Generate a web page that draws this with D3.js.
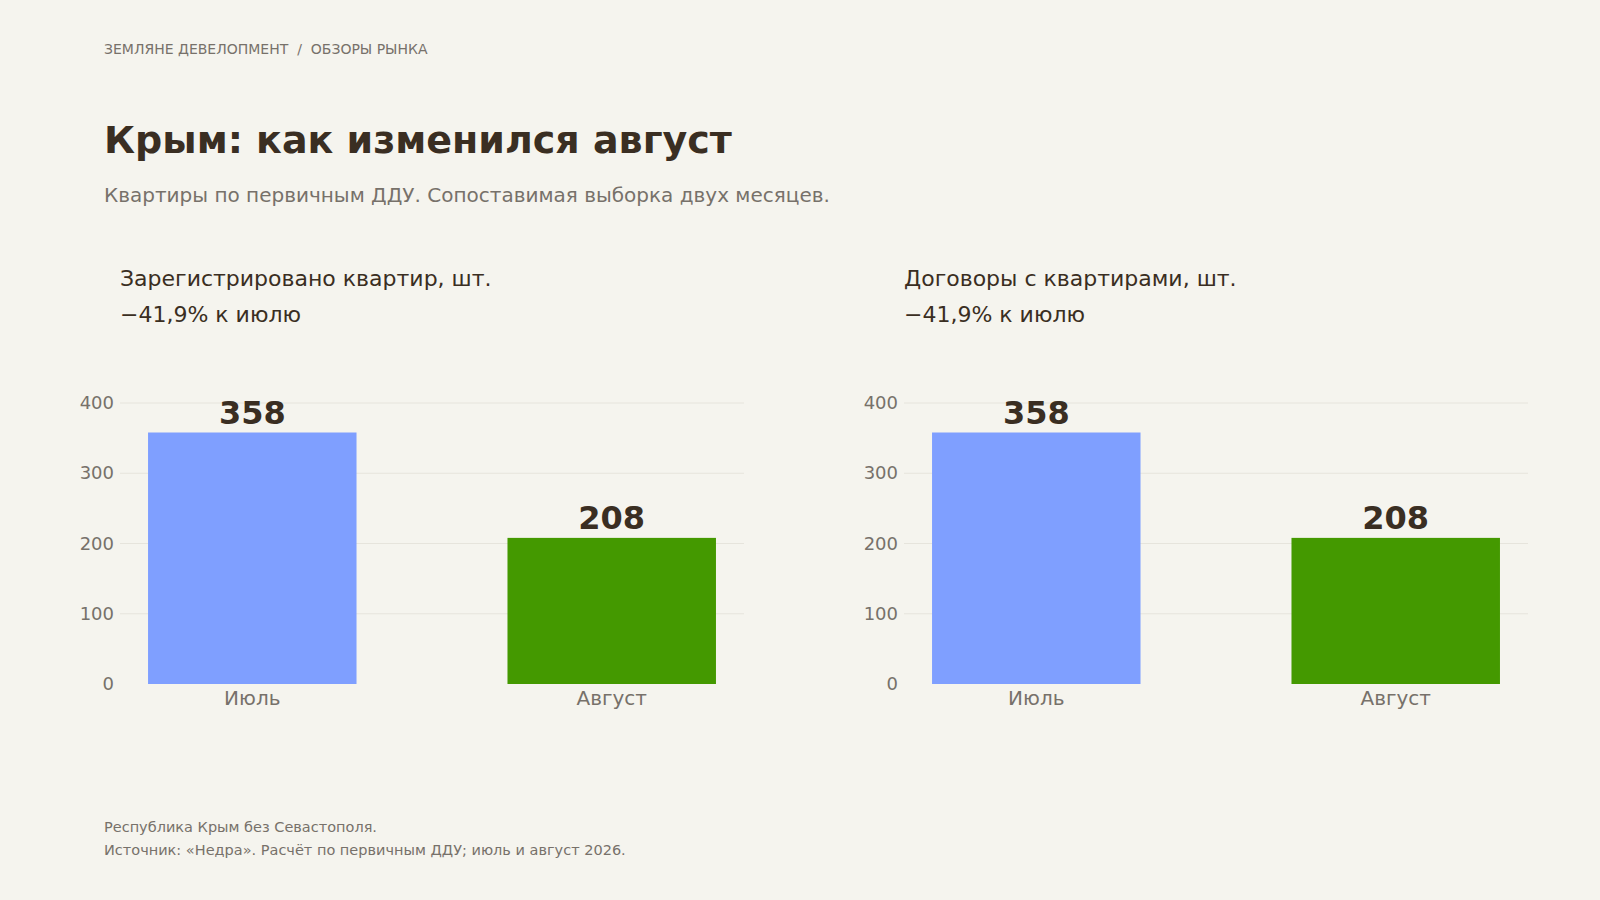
<!DOCTYPE html>
<html><head><meta charset="utf-8">
<script src="https://cdn.jsdelivr.net/npm/d3@7"></script>
<style>body{margin:0;background:#f5f4ee;font-family:"DejaVu Sans",sans-serif}</style>
</head><body><div class="canvas"></div>
<script>
// data
const months = ['Июль', 'Август'];
const registered = [358, 208];
const contracts = [358, 208];
const yTicks = [0, 100, 200, 300, 400];
const barColors = ['#7f9fff', '#449900'];

const svg = d3.select('.canvas').append('svg')
  .attr('width', 1600).attr('height', 900)
  .style('background', '#f5f4ee');

const txt = (x, y, s, size, fill, weight) => svg.append('text')
  .attr('x', x).attr('y', y).text(s)
  .attr('font-size', size).attr('fill', fill).attr('font-weight', weight || 'normal');

txt(104, 54, 'ЗЕМЛЯНЕ ДЕВЕЛОПМЕНТ  /  ОБЗОРЫ РЫНКА', 14, '#77716a').attr('xml:space', 'preserve');
txt(104, 153, 'Крым: как изменился август', 38, '#3a2e22', 'bold');
txt(104, 202, 'Квартиры по первичным ДДУ. Сопоставимая выборка двух месяцев.', 20, '#77716a');
txt(104, 832, 'Республика Крым без Севастополя.', 14.5, '#77716a');
txt(104, 855, 'Источник: «Недра». Расчёт по первичным ДДУ; июль и август 2026.', 14.5, '#77716a');

const y = d3.scaleLinear().domain([0, 400]).range([684, 403]);

//draw a panel
const panel = (x0, x1, title, values) => {
  txt(x0, 286, title, 22, '#3a2e22');
  txt(x0, 322, '−41,9% к июлю', 22, '#3a2e22');

  const x = d3.scaleBand().domain(months).range([x0, x1])
    .paddingInner(0.42).paddingOuter(0.078);

  const g = svg.append('g');
  g.selectAll('.grid').data(yTicks.slice(1)).enter().append('line')
    .attr('x1', x0).attr('x2', x1)
    .attr('y1', d => y(d)).attr('y2', d => y(d))
    .attr('stroke', '#e6e4dc').attr('stroke-width', 1);
  g.selectAll('.yl').data(yTicks).enter().append('text')
    .attr('x', x0 - 6).attr('y', d => y(d) + 6)
    .attr('text-anchor', 'end').attr('font-size', 18).attr('fill', '#77716a')
    .text(d => d);

  g.selectAll('rect').data(values).enter().append('rect')
    .attr('x', (d, i) => x(months[i])).attr('width', x.bandwidth())
    .attr('y', d => y(d)).attr('height', d => y(0) - y(d))
    .attr('fill', (d, i) => barColors[i]);

  g.selectAll('.val').data(values).enter().append('text')
    .attr('x', (d, i) => x(months[i]) + x.bandwidth() / 2)
    .attr('y', d => y(d) - 9)
    .attr('text-anchor', 'middle').attr('font-size', 32).attr('font-weight', 'bold')
    .attr('fill', '#3a2e22').text(d => d);

  g.selectAll('.xl').data(months).enter().append('text')
    .attr('x', d => x(d) + x.bandwidth() / 2).attr('y', 705)
    .attr('text-anchor', 'middle').attr('font-size', 20).attr('fill', '#77716a')
    .text(d => d);
};

panel(120, 744, 'Зарегистрировано квартир, шт.', registered);
panel(904, 1528, 'Договоры с квартирами, шт.', contracts);
</script></body></html>
